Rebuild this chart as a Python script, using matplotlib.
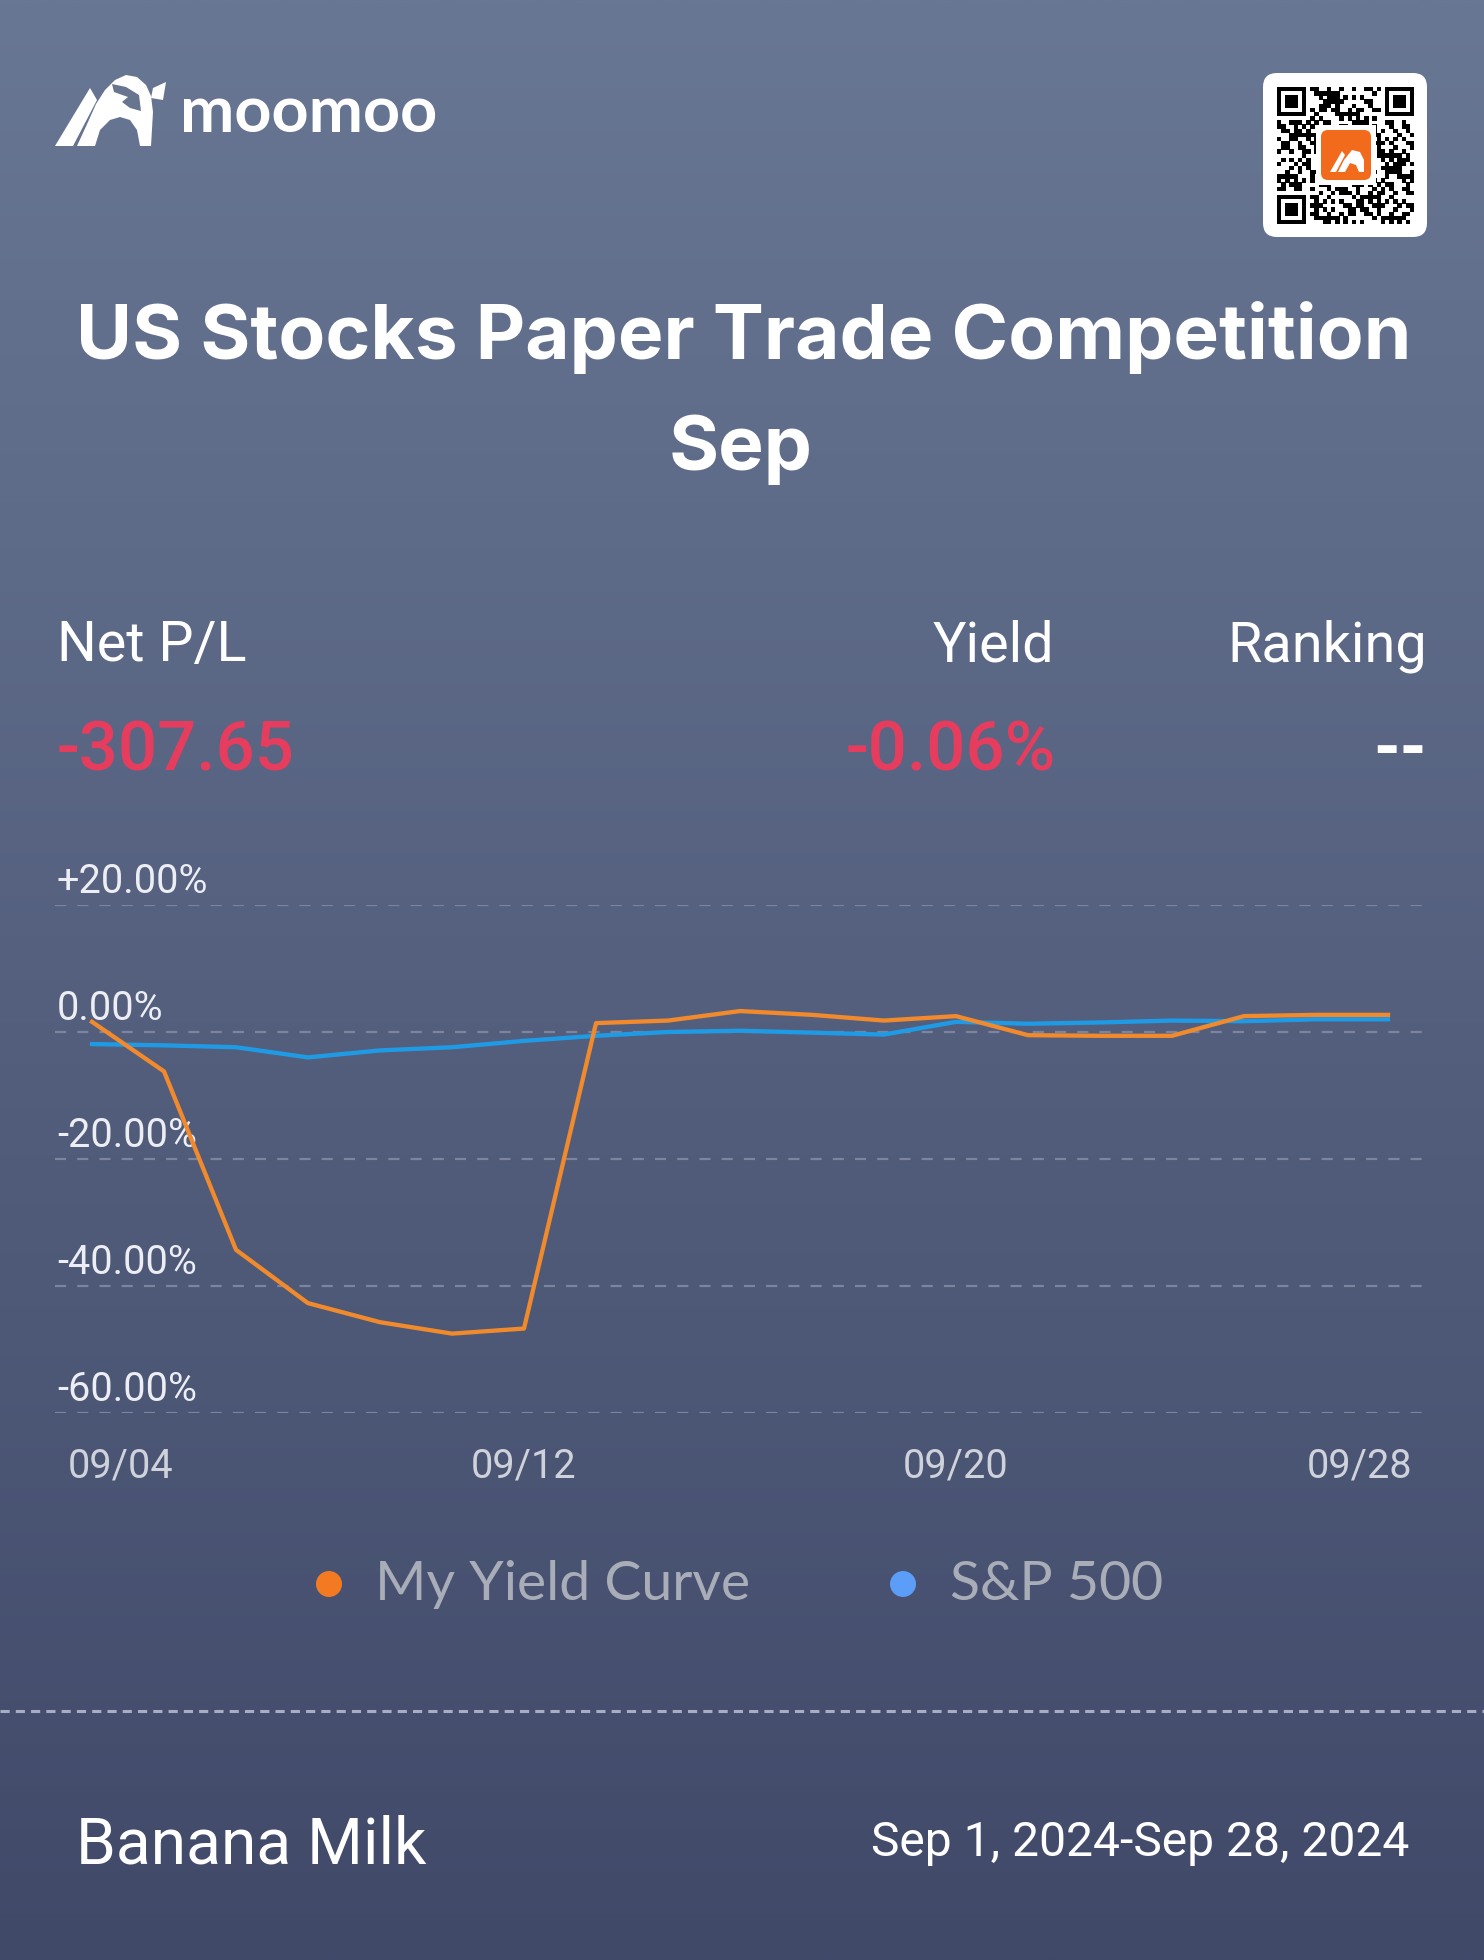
import matplotlib
matplotlib.use('Agg')
import matplotlib.pyplot as plt
import numpy as np
from matplotlib.patches import FancyBboxPatch, Polygon, PathPatch, Rectangle, Circle
from matplotlib.path import Path

# ---------------- data ----------------
dates = ['09/04', '09/05', '09/06', '09/07', '09/10', '09/11', '09/12', '09/13', '09/14',
         '09/17', '09/18', '09/19', '09/20', '09/21', '09/24', '09/25', '09/26', '09/27', '09/28']
my_yield = [1.6, -6.2, -34.3, -42.7, -45.7, -47.5, -46.7, 1.4, 1.8, 3.3,
            2.7, 1.8, 2.5, -0.5, -0.6, -0.6, 2.5, 2.7, 2.7]
sp500 = [-1.9, -2.1, -2.4, -4.0, -2.9, -2.4, -1.4, -0.6, 0.0, 0.2,
         -0.1, -0.4, 1.6, 1.3, 1.5, 1.8, 1.7, 2.0, 2.0]
y_ticks = [20, 0, -20, -40, -60]
y_tick_labels = ['+20.00%', '0.00%', '-20.00%', '-40.00%', '-60.00%']
x_tick_labels = ['09/04', '09/12', '09/20', '09/28']
series_names = ['My Yield Curve', 'S&P 500']
title_lines = ['US Stocks Paper Trade Competition', 'Sep']
stat_headers = ['Net P/L', 'Yield', 'Ranking']
stat_values = ['-307.65', '-0.06%', '--']
user_name = 'Banana Milk'
period = 'Sep 1, 2024-Sep 28, 2024'

# ---------------- figure ----------------
W, H, DPI = 1484, 1960, 100
PT = 72.0 / DPI
fig = plt.figure(figsize=(W / DPI, H / DPI), dpi=DPI)
R = fig.canvas.get_renderer()

bg = fig.add_axes([0, 0, 1, 1])
bg.axis('off')

# vertical gradient background
top = np.array([104, 119, 148]) / 255.0
bot = np.array([65, 73, 105]) / 255.0
t = np.linspace(0, 1, 256)[:, None]
grad = (top[None, :] * (1 - t) + bot[None, :] * t)[:, None, :]
bg.imshow(grad, extent=[0, W, H, 0], aspect='auto', zorder=0, interpolation='bilinear')
bg.set_xlim(0, W)
bg.set_ylim(H, 0)


def fit(x, y, s, width, ha='left', size=30, **kw):
    txt = bg.text(x, y, s, ha=ha, va='baseline', fontsize=size, **kw)
    bb = txt.get_window_extent(renderer=R)
    txt.set_fontsize(size * width / bb.width)
    return txt


# ---------------- logo ----------------
white = '#ffffff'
bg.add_patch(Polygon([(55, 146), (73, 146), (97, 100), (90, 88)], closed=True,
                     fc=white, ec='none', zorder=3))
outer = [(77, 146), (88, 122), (96, 104), (105, 90), (115, 80), (126, 75), (137, 77),
         (146, 85), (151, 96), (153, 112), (151, 146)]
inner = [(140, 146), (137, 130), (130, 120), (120, 117), (110, 120), (100, 130), (95, 146)]
verts = outer + [outer[0]] + inner + [inner[0]]
codes = ([Path.MOVETO] + [Path.LINETO] * (len(outer) - 1) + [Path.CLOSEPOLY] +
         [Path.MOVETO] + [Path.LINETO] * (len(inner) - 1) + [Path.CLOSEPOLY])
bg.add_patch(PathPatch(Path(verts, codes), fc=white, ec='none', zorder=3))
bg.add_patch(Polygon([(112, 84), (126, 87), (139, 95), (141, 111), (130, 108), (122, 102),
                      (128, 97), (114, 92)], closed=True, fc='#67758f', ec='none', zorder=4))
bg.add_patch(Polygon([(153, 88), (166, 82), (163, 100), (151, 98)], closed=True,
                     fc=white, ec='none', zorder=3))
fit(180, 132, 'moomoo', 257, family='Lato', weight='bold', color=white, zorder=3)

# ---------------- QR code ----------------
bg.add_patch(FancyBboxPatch((1263 + 14, 73 + 14), 164 - 28, 164 - 28,
                            boxstyle='round,pad=14', fc=white, ec='none', zorder=3))
n = 33
q0x, q0y, qs = 1277, 87, 137.0 / n


def finder(ci, cj):
    for i in range(7):
        for j in range(7):
            ring = (i in (0, 6) or j in (0, 6)) or (2 <= i <= 4 and 2 <= j <= 4)
            if ring:
                bg.add_patch(Rectangle((q0x + (cj + j) * qs, q0y + (ci + i) * qs), qs + 0.3, qs + 0.3,
                                       fc='black', ec='none', zorder=4))


finder(0, 0); finder(0, n - 7); finder(n - 7, 0)
for i in range(n):
    for j in range(n):
        in_f = (i < 8 and j < 8) or (i < 8 and j >= n - 8) or (i >= n - 8 and j < 8)
        if in_f:
            continue
        if ((i * 7 + j * 11 + (i * j) % 5) % 3) == 0 or ((i ^ j) % 7 == 1):
            bg.add_patch(Rectangle((q0x + j * qs, q0y + i * qs), qs + 0.3, qs + 0.3,
                                   fc='black', ec='none', zorder=4))
bg.add_patch(Rectangle((1316, 125), 60, 60, fc=white, ec='none', zorder=5))
bg.add_patch(FancyBboxPatch((1328, 137), 36, 36, boxstyle='round,pad=7',
                            fc='#f26b1d', ec='none', zorder=6))
bg.add_patch(Polygon([(1330, 172), (1336, 172), (1345, 155), (1342, 151)], closed=True,
                     fc=white, ec='none', zorder=7))
bg.add_patch(Polygon([(1338, 172), (1344, 160), (1352, 150), (1360, 152), (1364, 160), (1364, 172),
                      (1359, 172), (1356, 165), (1350, 163), (1345, 172)], closed=True,
                     fc=white, ec='none', zorder=7))

# ---------------- title ----------------
t1 = fit(744, 359, title_lines[0], 1336, ha='center', family='Inter', weight='bold', color=white)
bg.text(741, 470, title_lines[1], ha='center', va='baseline', fontsize=t1.get_fontsize(),
        family='Inter', weight='bold', color=white)

# ---------------- stats ----------------
h1 = fit(57, 661, stat_headers[0], 189, family='Roboto', color=white)
hs = h1.get_fontsize()
bg.text(1054, 661, stat_headers[1], ha='right', va='baseline', fontsize=hs, family='Roboto', color=white)
bg.text(1427, 661, stat_headers[2], ha='right', va='baseline', fontsize=hs, family='Roboto', color=white)
red = '#e63d5e'
v1 = fit(57, 770, stat_values[0], 237, family='Roboto', weight='medium', color=red)
vs = v1.get_fontsize()
bg.text(1056, 770, stat_values[1], ha='right', va='baseline', fontsize=vs, family='Roboto',
        weight='medium', color=red)
bg.text(1427, 770, stat_values[2], ha='right', va='baseline', fontsize=vs, family='Roboto',
        weight='bold', color=white)

# ---------------- chart ----------------
px0, px1 = 55, 1427
py_top, py_bot = 905, 1413
ax = fig.add_axes([px0 / W, 1 - py_bot / H, (px1 - px0) / W, (py_bot - py_top) / H])
ax.patch.set_alpha(0)
for s in ax.spines.values():
    s.set_visible(False)
ax.set_xticks([]); ax.set_yticks([])
step = (1388 - 92) / 18.0
ax.set_xlim(-(92 - px0) / step, 18 + (px1 - 1388) / step)
ax.set_ylim(-60, 20)
xi = np.arange(len(dates))

for v, lab in zip(y_ticks, y_tick_labels):
    ax.axhline(v, color='#7c859d', lw=1.6, dashes=(5, 5), zorder=1)
    ax.annotate(lab, xy=(0, v), xycoords=('axes fraction', 'data'),
                xytext=(2 * PT, 12 * PT), textcoords='offset points',
                ha='left', va='baseline', fontsize=28.5, family='Roboto', color='#eceef3')

for lab in x_tick_labels:
    idx = dates.index(lab)
    if idx == 0:
        ha, dx = 'left', -24
    elif idx == len(dates) - 1:
        ha, dx = 'right', 24
    else:
        ha, dx = 'center', 0
    ax.annotate(lab, xy=(idx, 0), xycoords=('data', 'axes fraction'),
                xytext=(dx * PT, -64 * PT), textcoords='offset points',
                ha=ha, va='baseline', fontsize=28.5, family='Roboto', color='#cfd2da')

orange_line = '#f08a2c'
blue_line = '#1f9be6'
ax.plot(xi, sp500, color=blue_line, lw=3.1, clip_on=False, zorder=3, solid_joinstyle='round')
ax.plot(xi, my_yield, color=orange_line, lw=3.1, clip_on=False, zorder=4, solid_joinstyle='round')

# ---------------- legend ----------------
bg.add_patch(Circle((329, 1584), 13, fc='#f47a22', ec='none', zorder=3))
bg.add_patch(Circle((903, 1584), 13, fc='#5b9df7', ec='none', zorder=3))
l1 = fit(375, 1600, series_names[0], 375, family='Lato', color='#a9adb8')
bg.text(950, 1600, series_names[1], ha='left', va='baseline', fontsize=l1.get_fontsize(),
        family='Lato', color='#a9adb8')

# separator
bg.plot([0, W], [1711, 1711], color='#a7aec4', lw=2.2, dashes=(3, 2), zorder=3)

# footer
fit(76, 1863, user_name, 350, family='Roboto', color=white)
fit(1409, 1856, period, 538, ha='right', family='Roboto', weight='normal', color=white)

fig.savefig('out.png', dpi=DPI)
